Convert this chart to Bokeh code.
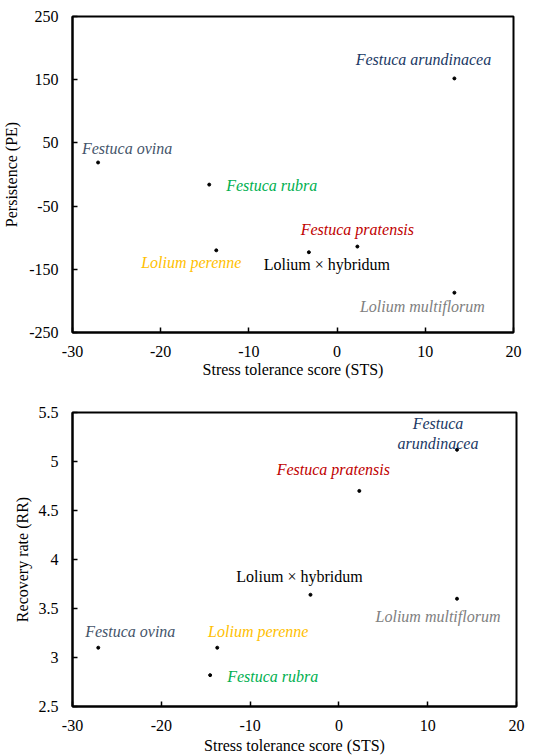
from bokeh.plotting import figure
from bokeh.layouts import column
from bokeh.models import ColumnDataSource, FixedTicker
from bokeh.embed import file_html
from bokeh.resources import INLINE
from bokeh.core.properties import value

# ---- data ----
species = ["Festuca arundinacea", "Festuca ovina", "Festuca rubra", "Festuca pratensis",
           "Lolium perenne", "Lolium \u00d7 hybridum", "Lolium multiflorum"]
sts = [13.3, -27.1, -14.5, 2.3, -13.7, -3.2, 13.3]
pe = [152, 19, -16, -114, -120, -123, -187]
rr = [5.12, 3.10, 2.82, 4.70, 3.10, 3.64, 3.60]
colors = ["#203864", "#44546A", "#00B050", "#C00000", "#FFC000", "#000000", "#808080"]
styles = ["italic"] * 5 + ["normal", "italic"]

x_ticks = [-30, -20, -10, 0, 10, 20]
pe_ticks = [-250, -150, -50, 50, 150, 250]
rr_ticks = [2.5, 3, 3.5, 4, 4.5, 5, 5.5]
rr_tick_labels = ["2.5", "3", "3.5", "4", "4.5", "5", "5.5"]

FONT = "'Liberation Serif', 'Times New Roman', serif"

# label placement (pixels): align, dx, dy  (order follows `species`)
top_place = [("center", -31, -19), ("center", 29, -14), ("left", 17, 1), ("center", 0, -17),
             ("center", -25, 12), ("center", 18, 12), ("center", -32, 14)]
bot_place = [("center", -19, -16), ("center", 32, -16), ("left", 17, 1), ("center", -26, -21),
             ("center", 41, -16), ("center", -11, -18), ("center", -19, 18)]
bot_labels = list(species)
bot_labels[0] = "Festuca\narundinacea"


def make_fig(yvals, yrange, yticks, ylabels, ylabel, labels, place,
             fw, fh, mb_left, mb_right, mb_top, mb_bottom, x_std, x_lab_std, y_lab_std):
    p = figure(frame_width=fw, frame_height=fh, x_range=(-30, 20), y_range=yrange,
               output_backend="svg", toolbar_location=None,
               min_border_left=mb_left, min_border_right=mb_right,
               min_border_top=mb_top, min_border_bottom=mb_bottom)
    p.grid.visible = False
    p.outline_line_color = "black"
    p.outline_line_width = 2
    p.background_fill_color = "white"
    p.border_fill_color = "white"
    for ax in (p.xaxis[0], p.yaxis[0]):
        ax.axis_line_color = "black"
        ax.axis_line_width = 2
        ax.major_tick_in = 5
        ax.major_tick_out = 0
        ax.major_tick_line_color = "black"
        ax.major_tick_line_width = 1.5
        ax.minor_tick_line_color = None
        ax.major_label_text_font = FONT
        ax.major_label_text_font_size = "16px"
        ax.major_label_text_color = "black"
        ax.axis_label_text_font = FONT
        ax.axis_label_text_font_size = "16px"
        ax.axis_label_text_font_style = "normal"
        ax.axis_label_text_color = "black"
    p.xaxis.ticker = FixedTicker(ticks=x_ticks)
    p.yaxis.ticker = FixedTicker(ticks=yticks)
    p.xaxis.major_label_overrides = {t: str(t) for t in x_ticks}
    p.yaxis.major_label_overrides = {t: s for t, s in zip(yticks, ylabels)}
    p.xaxis.axis_label = "Stress tolerance score (STS)"
    p.yaxis.axis_label = ylabel
    p.xaxis.major_label_standoff = x_std
    p.xaxis.axis_label_standoff = x_lab_std
    p.yaxis.major_label_standoff = 14
    p.yaxis.axis_label_standoff = y_lab_std

    src = ColumnDataSource(dict(x=sts, y=yvals))
    p.scatter("x", "y", source=src, size=3, color="black")

    for i in range(len(species)):
        al, dx, dy = place[i]
        p.text(x=[sts[i]], y=[yvals[i]], text=[labels[i]], x_offset=dx, y_offset=dy,
               text_align=al, text_baseline="middle", text_color=colors[i],
               text_font=value(FONT), text_font_size="16px",
               text_font_style=styles[i], text_line_height=1.15)
    return p


p1 = make_fig(pe, (-250, 250), pe_ticks, [str(t) for t in pe_ticks], "Persistence (PE)",
              species, top_place, 441, 316, 66, 39, 16, 54, 13, 1, 6)
p2 = make_fig(rr, (2.5, 5.5), rr_ticks, rr_tick_labels, "Recovery rate (RR)",
              bot_labels, bot_place, 444, 294, 67, 35, 26, 49, 13, 3, 5)

layout = column(p1, p2, spacing=0)
open("out.html", "w").write(file_html(layout, INLINE))
